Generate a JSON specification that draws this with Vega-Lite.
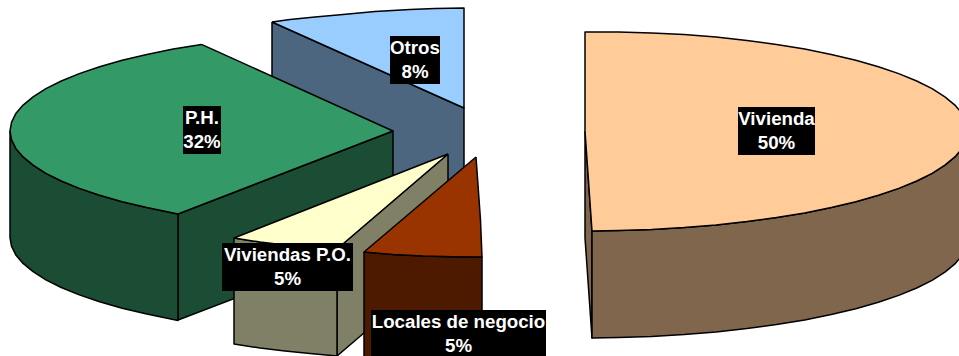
{"$schema":"https://vega.github.io/schema/vega-lite/v6.json","width":959,"height":356,"padding":0,"autosize":{"type":"fit","contains":"padding"},"background":"white","config":{"view":{"stroke":null}},
"layer":[
{"data":{"values":[
{"p":"OtrosSide","i":0,"x":272,"y":22},{"p":"OtrosSide","i":1,"x":464,"y":108},{"p":"OtrosSide","i":2,"x":464,"y":215},{"p":"OtrosSide","i":3,"x":272,"y":130},{"p":"OtrosSide","i":4,"x":272,"y":22},
{"p":"OtrosTop","i":0,"x":272,"y":22},{"p":"OtrosTop","i":1,"x":290,"y":19.5},{"p":"OtrosTop","i":2,"x":315,"y":17},{"p":"OtrosTop","i":3,"x":343,"y":14.5},{"p":"OtrosTop","i":4,"x":375,"y":11.5},{"p":"OtrosTop","i":5,"x":410,"y":9.5},{"p":"OtrosTop","i":6,"x":435,"y":8.5},{"p":"OtrosTop","i":7,"x":464,"y":8},{"p":"OtrosTop","i":8,"x":464,"y":108},{"p":"OtrosTop","i":9,"x":272,"y":22},
{"p":"PHRight","i":0,"x":178,"y":214},{"p":"PHRight","i":1,"x":393,"y":131},{"p":"PHRight","i":2,"x":393,"y":238},{"p":"PHRight","i":3,"x":178,"y":320},{"p":"PHRight","i":4,"x":178,"y":214},
{"p":"PHFront","i":0,"x":10,"y":131},{"p":"PHFront","i":1,"x":11.5,"y":139.7},{"p":"PHFront","i":2,"x":15.8,"y":148.4},{"p":"PHFront","i":3,"x":23.1,"y":156.9},{"p":"PHFront","i":4,"x":33.1,"y":165.2},{"p":"PHFront","i":5,"x":45.9,"y":173.3},{"p":"PHFront","i":6,"x":61.3,"y":181},{"p":"PHFront","i":7,"x":79.3,"y":188.4},{"p":"PHFront","i":8,"x":99.6,"y":195.3},{"p":"PHFront","i":9,"x":122.2,"y":201.7},{"p":"PHFront","i":10,"x":146.8,"y":207.6},{"p":"PHFront","i":11,"x":178,"y":214},{"p":"PHFront","i":12,"x":178,"y":320.5},{"p":"PHFront","i":13,"x":146.8,"y":314.1},{"p":"PHFront","i":14,"x":122.2,"y":308.2},{"p":"PHFront","i":15,"x":99.6,"y":301.8},{"p":"PHFront","i":16,"x":79.3,"y":294.9},{"p":"PHFront","i":17,"x":61.3,"y":287.5},{"p":"PHFront","i":18,"x":45.9,"y":279.8},{"p":"PHFront","i":19,"x":33.1,"y":271.7},{"p":"PHFront","i":20,"x":23.1,"y":263.4},{"p":"PHFront","i":21,"x":15.8,"y":254.9},{"p":"PHFront","i":22,"x":11.5,"y":246.2},{"p":"PHFront","i":23,"x":10,"y":237.5},{"p":"PHFront","i":24,"x":10,"y":131},
{"p":"PHTop","i":0,"x":201.5,"y":44.4},{"p":"PHTop","i":1,"x":173.3,"y":49.1},{"p":"PHTop","i":2,"x":146.8,"y":54.4},{"p":"PHTop","i":3,"x":122.2,"y":60.3},{"p":"PHTop","i":4,"x":99.6,"y":66.7},{"p":"PHTop","i":5,"x":79.3,"y":73.6},{"p":"PHTop","i":6,"x":61.3,"y":81},{"p":"PHTop","i":7,"x":45.9,"y":88.7},{"p":"PHTop","i":8,"x":33.1,"y":96.8},{"p":"PHTop","i":9,"x":23.1,"y":105.1},{"p":"PHTop","i":10,"x":15.8,"y":113.6},{"p":"PHTop","i":11,"x":11.5,"y":122.3},{"p":"PHTop","i":12,"x":10,"y":131},{"p":"PHTop","i":13,"x":11.5,"y":139.7},{"p":"PHTop","i":14,"x":15.8,"y":148.4},{"p":"PHTop","i":15,"x":23.1,"y":156.9},{"p":"PHTop","i":16,"x":33.1,"y":165.2},{"p":"PHTop","i":17,"x":45.9,"y":173.3},{"p":"PHTop","i":18,"x":61.3,"y":181},{"p":"PHTop","i":19,"x":79.3,"y":188.4},{"p":"PHTop","i":20,"x":99.6,"y":195.3},{"p":"PHTop","i":21,"x":122.2,"y":201.7},{"p":"PHTop","i":22,"x":146.8,"y":207.6},{"p":"PHTop","i":23,"x":178,"y":214},{"p":"PHTop","i":24,"x":393,"y":131},{"p":"PHTop","i":25,"x":201.5,"y":44.4},
{"p":"POSide","i":0,"x":448,"y":154},{"p":"POSide","i":1,"x":448,"y":261},{"p":"POSide","i":2,"x":337,"y":356},{"p":"POSide","i":3,"x":337,"y":249},{"p":"POSide","i":4,"x":448,"y":154},
{"p":"POFront","i":0,"x":234,"y":238},{"p":"POFront","i":1,"x":260,"y":242},{"p":"POFront","i":2,"x":285,"y":245},{"p":"POFront","i":3,"x":310,"y":247.5},{"p":"POFront","i":4,"x":337,"y":249},{"p":"POFront","i":5,"x":337,"y":356},{"p":"POFront","i":6,"x":310,"y":353.5},{"p":"POFront","i":7,"x":285,"y":351},{"p":"POFront","i":8,"x":260,"y":348},{"p":"POFront","i":9,"x":234,"y":344},{"p":"POFront","i":10,"x":234,"y":238},
{"p":"POTop","i":0,"x":448,"y":154},{"p":"POTop","i":1,"x":234,"y":238},{"p":"POTop","i":2,"x":260,"y":242},{"p":"POTop","i":3,"x":285,"y":245},{"p":"POTop","i":4,"x":310,"y":247.5},{"p":"POTop","i":5,"x":337,"y":249},{"p":"POTop","i":6,"x":448,"y":154},
{"p":"LocSide","i":0,"x":364,"y":252},{"p":"LocSide","i":1,"x":393,"y":254.5},{"p":"LocSide","i":2,"x":423,"y":256},{"p":"LocSide","i":3,"x":452,"y":256.8},{"p":"LocSide","i":4,"x":482,"y":257},{"p":"LocSide","i":5,"x":482,"y":364},{"p":"LocSide","i":6,"x":364,"y":364},{"p":"LocSide","i":7,"x":364,"y":252},
{"p":"LocTop","i":0,"x":476,"y":157},{"p":"LocTop","i":1,"x":364,"y":252},{"p":"LocTop","i":2,"x":393,"y":254.5},{"p":"LocTop","i":3,"x":423,"y":256},{"p":"LocTop","i":4,"x":452,"y":256.8},{"p":"LocTop","i":5,"x":482,"y":257},{"p":"LocTop","i":6,"x":480.5,"y":220},{"p":"LocTop","i":7,"x":478,"y":185},{"p":"LocTop","i":8,"x":476,"y":157},
{"p":"VivSliver","i":0,"x":585,"y":131},{"p":"VivSliver","i":1,"x":592,"y":231},{"p":"VivSliver","i":2,"x":592,"y":338},{"p":"VivSliver","i":3,"x":585,"y":238},{"p":"VivSliver","i":4,"x":585,"y":131},
{"p":"VivFront","i":0,"x":592,"y":231},{"p":"VivFront","i":1,"x":618.4,"y":230.6},{"p":"VivFront","i":2,"x":651.5,"y":229.5},{"p":"VivFront","i":3,"x":684.1,"y":227.6},{"p":"VivFront","i":4,"x":716,"y":225},{"p":"VivFront","i":5,"x":746.9,"y":221.6},{"p":"VivFront","i":6,"x":776.5,"y":217.6},{"p":"VivFront","i":7,"x":804.7,"y":212.9},{"p":"VivFront","i":8,"x":831.2,"y":207.6},{"p":"VivFront","i":9,"x":855.8,"y":201.7},{"p":"VivFront","i":10,"x":878.4,"y":195.3},{"p":"VivFront","i":11,"x":898.7,"y":188.4},{"p":"VivFront","i":12,"x":916.7,"y":181},{"p":"VivFront","i":13,"x":932.1,"y":173.3},{"p":"VivFront","i":14,"x":944.9,"y":165.2},{"p":"VivFront","i":15,"x":954.9,"y":156.9},{"p":"VivFront","i":16,"x":962.2,"y":148.4},{"p":"VivFront","i":17,"x":968,"y":131},{"p":"VivFront","i":18,"x":968,"y":238},{"p":"VivFront","i":19,"x":962.2,"y":255.4},{"p":"VivFront","i":20,"x":954.9,"y":263.9},{"p":"VivFront","i":21,"x":944.9,"y":272.2},{"p":"VivFront","i":22,"x":932.1,"y":280.3},{"p":"VivFront","i":23,"x":916.7,"y":288},{"p":"VivFront","i":24,"x":898.7,"y":295.4},{"p":"VivFront","i":25,"x":878.4,"y":302.3},{"p":"VivFront","i":26,"x":855.8,"y":308.7},{"p":"VivFront","i":27,"x":831.2,"y":314.6},{"p":"VivFront","i":28,"x":804.7,"y":319.9},{"p":"VivFront","i":29,"x":776.5,"y":324.6},{"p":"VivFront","i":30,"x":746.9,"y":328.6},{"p":"VivFront","i":31,"x":716,"y":332},{"p":"VivFront","i":32,"x":684.1,"y":334.6},{"p":"VivFront","i":33,"x":651.5,"y":336.5},{"p":"VivFront","i":34,"x":618.4,"y":337.6},{"p":"VivFront","i":35,"x":592,"y":338},{"p":"VivFront","i":36,"x":592,"y":231},
{"p":"VivTop","i":0,"x":585,"y":131},{"p":"VivTop","i":1,"x":585,"y":32},{"p":"VivTop","i":2,"x":618.4,"y":32},{"p":"VivTop","i":3,"x":651.5,"y":33},{"p":"VivTop","i":4,"x":684.1,"y":34.6},{"p":"VivTop","i":5,"x":716,"y":37},{"p":"VivTop","i":6,"x":746.9,"y":40.4},{"p":"VivTop","i":7,"x":776.5,"y":44.4},{"p":"VivTop","i":8,"x":804.7,"y":49.1},{"p":"VivTop","i":9,"x":831.2,"y":54.4},{"p":"VivTop","i":10,"x":855.8,"y":60.3},{"p":"VivTop","i":11,"x":878.4,"y":66.7},{"p":"VivTop","i":12,"x":898.7,"y":73.6},{"p":"VivTop","i":13,"x":916.7,"y":81},{"p":"VivTop","i":14,"x":932.1,"y":88.7},{"p":"VivTop","i":15,"x":944.9,"y":96.8},{"p":"VivTop","i":16,"x":954.9,"y":105.1},{"p":"VivTop","i":17,"x":962.2,"y":113.6},{"p":"VivTop","i":18,"x":968,"y":131},{"p":"VivTop","i":19,"x":962.2,"y":148.4},{"p":"VivTop","i":20,"x":954.9,"y":156.9},{"p":"VivTop","i":21,"x":944.9,"y":165.2},{"p":"VivTop","i":22,"x":932.1,"y":173.3},{"p":"VivTop","i":23,"x":916.7,"y":181},{"p":"VivTop","i":24,"x":898.7,"y":188.4},{"p":"VivTop","i":25,"x":878.4,"y":195.3},{"p":"VivTop","i":26,"x":855.8,"y":201.7},{"p":"VivTop","i":27,"x":831.2,"y":207.6},{"p":"VivTop","i":28,"x":804.7,"y":212.9},{"p":"VivTop","i":29,"x":776.5,"y":217.6},{"p":"VivTop","i":30,"x":746.9,"y":221.6},{"p":"VivTop","i":31,"x":716,"y":225},{"p":"VivTop","i":32,"x":684.1,"y":227.6},{"p":"VivTop","i":33,"x":651.5,"y":229.5},{"p":"VivTop","i":34,"x":618.4,"y":230.6},{"p":"VivTop","i":35,"x":592,"y":231},{"p":"VivTop","i":36,"x":585,"y":131}
]},
"mark":{"type":"line","stroke":"black","strokeWidth":1.5,"clip":true,"strokeJoin":"round"},
"encoding":{
"x":{"field":"x","type":"quantitative","scale":{"domain":[0,959]},"axis":null},
"y":{"field":"y","type":"quantitative","scale":{"domain":[356,0]},"axis":null},
"order":{"field":"i","type":"quantitative"},
"detail":{"field":"p"},
"fill":{"field":"p","type":"nominal","legend":null,"scale":{
"domain":["OtrosSide","OtrosTop","PHRight","PHFront","PHTop","POSide","POFront","POTop","LocSide","LocTop","VivSliver","VivFront","VivTop"],
"range":["#4D6680","#99CCFF","#1A4D33","#1A4D33","#339966","#808066","#808066","#FFFFCC","#4D1A00","#993300","#80664D","#80664D","#FFCC99"]}}
}},
{"data":{"name":"labels","values":[
{"t":"P.H.\n32%","x1":183,"x2":221,"y1":106,"y2":154,"cx":202,"cy":118},
{"t":"Otros\n8%","x1":390,"x2":440,"y1":36,"y2":84,"cx":415,"cy":48},
{"t":"Vivienda\n50%","x1":738,"x2":815,"y1":107,"y2":155,"cx":776.5,"cy":119},
{"t":"Viviendas P.O.\n5%","x1":222,"x2":353,"y1":243,"y2":291,"cx":287.5,"cy":255},
{"t":"Locales de negocio\n5%","x1":371,"x2":546,"y1":310,"y2":358,"cx":458.5,"cy":322}
]},
"mark":{"type":"rect","fill":"black","clip":true},
"encoding":{
"x":{"field":"x1","type":"quantitative","scale":{"domain":[0,959]},"axis":null},"x2":{"field":"x2"},
"y":{"field":"y1","type":"quantitative","scale":{"domain":[356,0]},"axis":null},"y2":{"field":"y2"}
}},
{"data":{"name":"labels"},
"mark":{"type":"text","color":"white","font":"Liberation Sans","fontWeight":"bold","fontSize":18.7,"lineBreak":"\n","lineHeight":24,"align":"center","baseline":"middle","clip":true},
"encoding":{
"x":{"field":"cx","type":"quantitative","scale":{"domain":[0,959]},"axis":null},
"y":{"field":"cy","type":"quantitative","scale":{"domain":[356,0]},"axis":null},
"text":{"field":"t"}
}}
]}
